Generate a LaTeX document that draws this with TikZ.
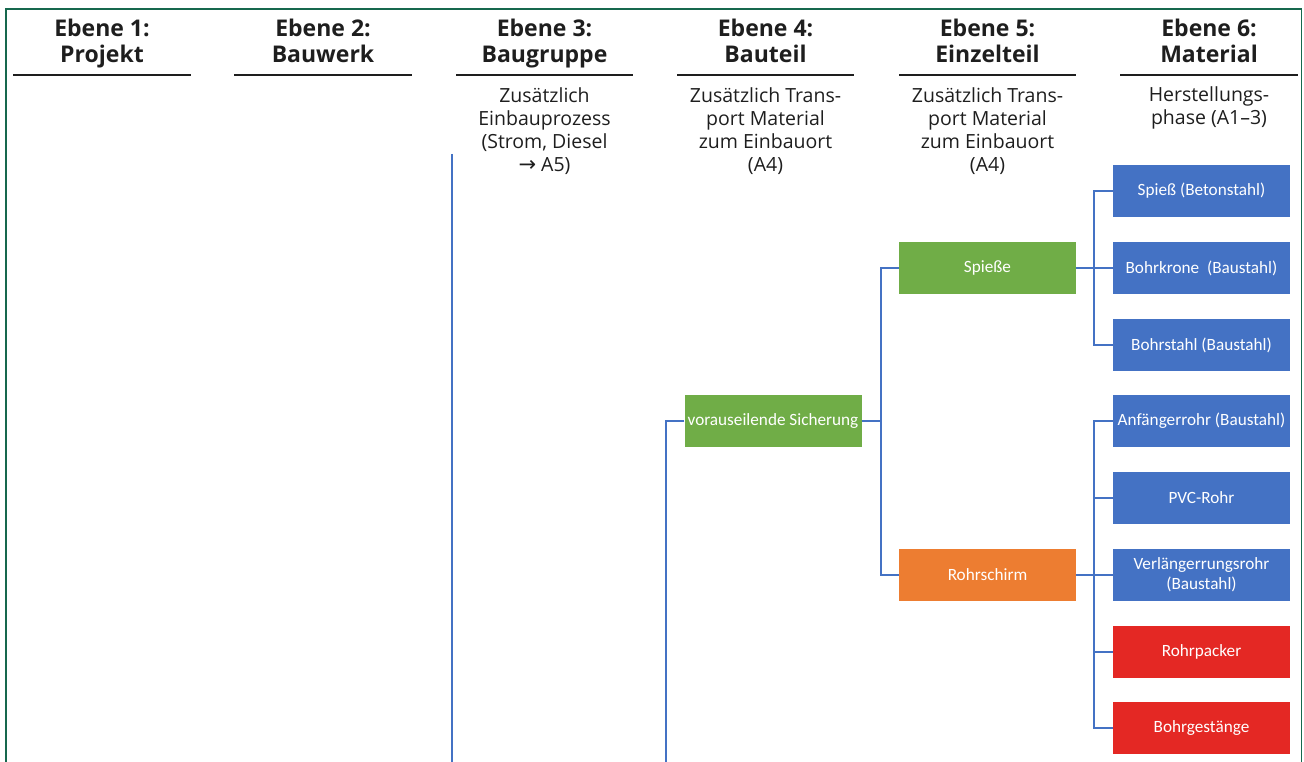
\documentclass[tikz,border=0pt]{standalone}
\usepackage{fontspec}
\setmainfont{Open Sans}
\newfontfamily\boxfont{Carlito}
\newfontfamily\symfont{DejaVu Sans}
\definecolor{frame}{RGB}{22,104,78}
\definecolor{cgreen}{RGB}{112,173,71}
\definecolor{corange}{RGB}{237,125,49}
\definecolor{cblue}{RGB}{68,114,196}
\definecolor{cred}{RGB}{228,40,36}
\definecolor{ink}{RGB}{30,30,30}
\tikzset{
  head/.style={anchor=base, align=center, inner sep=0pt, text=ink,
    font=\fontsize{23}{26}\selectfont\bfseries},
  note/.style={anchor=base, align=center, inner sep=0pt, text=ink,
    font=\fontsize{19.5}{23.3}\selectfont},
  rule/.style={line width=1.6pt, ink},
  item/.style={draw=none, minimum width=177pt, minimum height=52pt,
    inner sep=0pt, text=white, align=center,
    font=\boxfont\fontsize{17.2}{20}\selectfont},
  gbox/.style={item, fill=cgreen},
  obox/.style={item, fill=corange},
  bbox/.style={item, fill=cblue},
  rbox/.style={item, fill=cred},
  conn/.style={draw=cblue, line width=2pt},
}
\begin{document}
\begin{tikzpicture}[x=1pt, y=-1pt]
\useasboundingbox (0,0) rectangle (1304,762);
% outer frame, open at the bottom
\draw[frame, line width=2.5pt] (6,762) -- (6,9) -- (1302,9);
\draw[frame, line width=1.2pt] (1301.5,9) -- (1301.5,762);

% column headings (anchored at the baseline of the second line)
\node[head] (h1) at (102,63) {Ebene 1:\\Projekt};
\node[head] (h2) at (323,63) {Ebene 2:\\Bauwerk};
\node[head] (h3) at (544.5,63) {Ebene 3:\\Baugruppe};
\node[head] (h4) at (765.5,63) {Ebene 4:\\Bauteil};
\node[head] (h5) at (987.5,63) {Ebene 5:\\Einzelteil};
\node[head] (h6) at (1209,63) {Ebene 6:\\Material};
\draw[rule] (13,75) -- (191,75);
\draw[rule] (234,75) -- (412,75);
\draw[rule] (456,75) -- (633,75);
\draw[rule] (677,75) -- (854,75);
\draw[rule] (899,75) -- (1076,75);
\draw[rule] (1120,75) -- (1298,75);

% notes under the headings (anchored at the baseline of the last line)
\node[note] (n3) at (544.5,172) {Zusätzlich\\Einbauprozess\\(Strom, Diesel\\{\symfont\fontsize{21}{21}\selectfont →} A5)};
\node[note] (n4) at (765.5,172) {Zusätzlich Trans-\\port Material\\zum Einbauort\\(A4)};
\node[note] (n5) at (987.5,172) {Zusätzlich Trans-\\port Material\\zum Einbauort\\(A4)};
\node[note] (n6) at (1209,125) {Herstellungs-\\phase (A1–3)};

% level 4
\node[gbox] (vs) at (773,421) {vorauseilende Sicherung};
% level 5
\node[gbox] (sp) at (987.5,268) {Spieße};
\node[obox] (rs) at (987.5,575) {Rohrschirm};
% level 6
\node[bbox] (m1) at (1201.5,191) {Spieß (Betonstahl)};
\node[bbox] (m2) at (1201.5,268) {Bohrkrone\ \ (Baustahl)};
\node[bbox] (m3) at (1201.5,345) {Bohrstahl (Baustahl)};
\node[bbox] (m4) at (1201.5,421) {Anfängerrohr (Baustahl)};
\node[bbox] (m5) at (1201.5,498) {PVC-Rohr};
\node[bbox] (m6) at (1201.5,575) {Verlängerrungsrohr\\(Baustahl)};
\node[rbox] (m7) at (1201.5,652) {Rohrpacker};
\node[rbox] (m8) at (1201.5,728) {Bohrgestänge};

% free ends of the lines running off the bottom
\coordinate (g3top) at (452,154);
\coordinate (g3bot) at (452,762);
\coordinate (g4bot) at (666,762);

% connectors
\draw[conn] (g3top) -- (g3bot);
\draw[conn] (vs.west) -- (666,421) -- (g4bot);
\draw[conn] (vs.east) -- (881,421);
\draw[conn] (sp.west) -- ++(-18,0) |- (rs.west);
\draw[conn] (sp.east) -- (1094,268);
\draw[conn] (m1.west) -- ++(-19,0) |- (m3.west);
\draw[conn] (m2.west) -- ++(-19,0);
\draw[conn] (rs.east) -- (1094,575);
\draw[conn] (m4.west) -- ++(-19,0) |- (m8.west);
\foreach \m in {m5,m6,m7} \draw[conn] (\m.west) -- ++(-19,0);
\end{tikzpicture}
\end{document}
